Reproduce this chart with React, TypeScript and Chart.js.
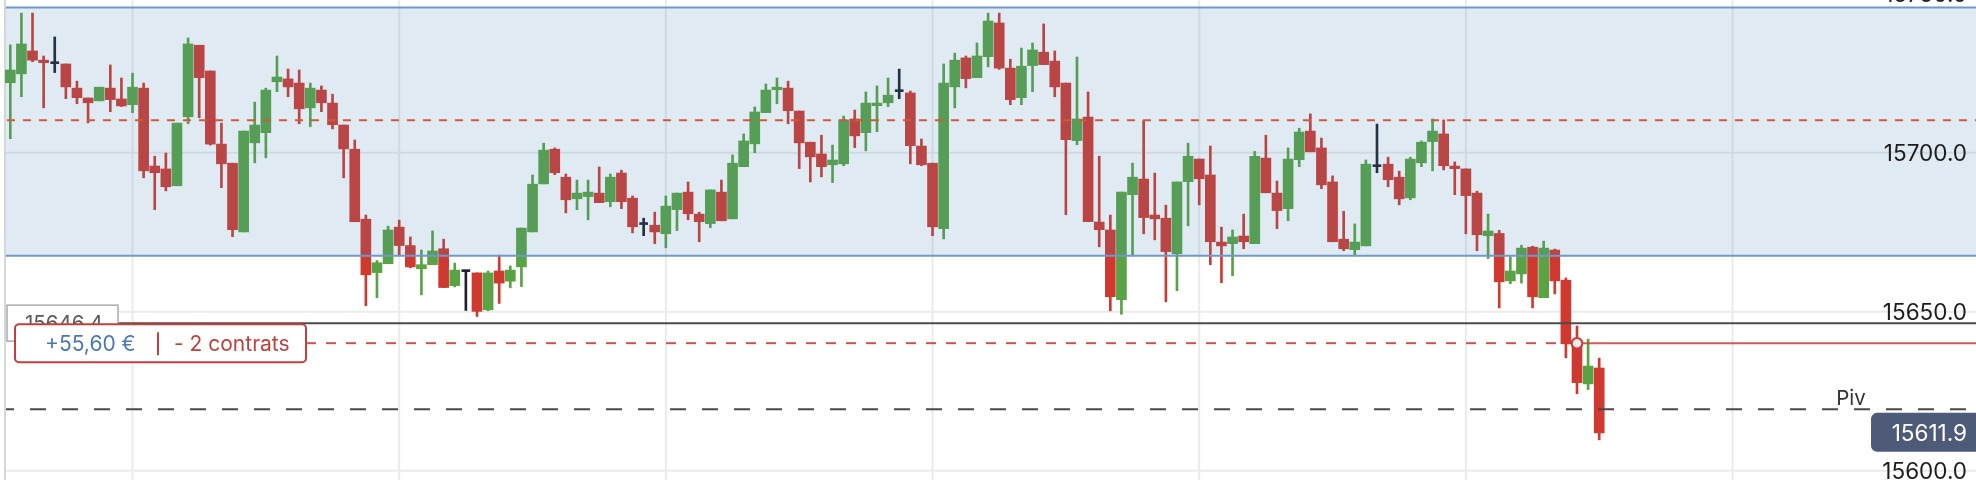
import React, { useEffect, useRef } from "react";
import { Chart, registerables } from "chart.js";

Chart.register(...registerables);

// ---- Data (OHLC per candle) ----
const opens = [
  15722.0, 15724.8, 15732.0, 15729.1, 15728.0, 15727.9, 15720.3, 15717.2, 15716.3, 15720.3,
  15716.9, 15715.1, 15720.3, 15695.8, 15694.9, 15689.6, 15711.3, 15733.8, 15725.7, 15702.7,
  15696.7, 15675.1, 15703.1, 15706.3, 15722.3, 15723.2, 15721.9, 15714.1, 15719.7, 15715.6,
  15708.7, 15701.1, 15679.1, 15662.3, 15665.1, 15676.6, 15670.8, 15663.5, 15664.8, 15669.8,
  15658.2, 15662.6, 15662.2, 15650.6, 15662.8, 15659.6, 15664.1, 15675.1, 15690.2, 15701.1,
  15692.3, 15685.5, 15686.2, 15687.3, 15684.6, 15693.6, 15685.7, 15677.4, 15677.2, 15674.5,
  15682.1, 15687.6, 15680.7, 15677.7, 15687.6, 15679.2, 15695.6, 15702.8, 15712.6, 15719.8,
  15720.3, 15713.1, 15703.3, 15699.6, 15696.2, 15696.5, 15710.6, 15706.3, 15714.8, 15715.7,
  15719.2, 15718.8, 15702.1, 15696.7, 15676.1, 15720.7, 15729.8, 15723.6, 15730.2, 15740.8,
  15726.6, 15717.3, 15727.4, 15731.6, 15728.8, 15721.9, 15703.8, 15711.2, 15678.2, 15675.7,
  15653.8, 15686.8, 15691.7, 15680.4, 15679.4, 15668.2, 15690.9, 15698.0, 15693.0, 15671.9,
  15671.4, 15673.8, 15671.4, 15698.3, 15687.3, 15682.4, 15697.8, 15706.8, 15701.5, 15690.8,
  15672.8, 15669.5, 15670.7, 15695.6, 15696.4, 15692.3, 15685.8, 15696.8, 15703.5, 15705.9,
  15695.8, 15694.9, 15687.3, 15673.9, 15674.6, 15659.7, 15661.9, 15670.3, 15654.4, 15669.4,
  15659.9, 15639.9, 15627.3, 15632.3,
];
const highs = [
  15733.9, 15743.9, 15743.9, 15730.4, 15736.4, 15727.9, 15722.5, 15717.2, 15720.6, 15727.6,
  15723.5, 15725.0, 15721.9, 15698.9, 15699.9, 15709.3, 15736.1, 15733.8, 15725.7, 15709.3,
  15696.7, 15706.8, 15715.9, 15720.3, 15730.4, 15726.3, 15726.0, 15721.9, 15721.0, 15718.4,
  15708.7, 15704.0, 15680.4, 15666.1, 15676.9, 15678.8, 15673.5, 15669.4, 15675.4, 15672.8,
  15665.3, 15662.6, 15662.2, 15662.8, 15667.8, 15664.4, 15676.3, 15693.0, 15703.0, 15701.5,
  15693.3, 15691.4, 15691.4, 15695.5, 15693.3, 15694.5, 15686.4, 15679.4, 15681.3, 15686.4,
  15687.3, 15690.8, 15681.3, 15688.3, 15691.4, 15699.3, 15705.9, 15714.4, 15721.6, 15723.5,
  15722.5, 15713.1, 15703.3, 15705.5, 15702.4, 15711.5, 15713.4, 15719.1, 15721.0, 15723.5,
  15726.3, 15719.4, 15704.3, 15696.7, 15727.9, 15731.3, 15730.4, 15734.5, 15743.9, 15743.9,
  15729.4, 15732.9, 15734.5, 15740.5, 15732.0, 15721.9, 15730.1, 15719.1, 15698.9, 15680.4,
  15687.6, 15696.7, 15710.1, 15693.6, 15683.5, 15690.8, 15703.0, 15698.0, 15702.1, 15676.6,
  15675.7, 15680.7, 15700.4, 15705.5, 15691.1, 15701.5, 15707.7, 15712.2, 15704.6, 15692.7,
  15681.6, 15677.6, 15697.7, 15709.0, 15698.6, 15694.2, 15698.6, 15703.7, 15710.6, 15710.3,
  15697.1, 15694.9, 15687.9, 15680.7, 15675.6, 15667.3, 15670.9, 15670.6, 15672.2, 15669.7,
  15660.6, 15645.5, 15641.4, 15635.4,
];
const lows = [
  15704.4, 15717.6, 15728.6, 15714.1, 15725.2, 15717.0, 15715.4, 15709.4, 15716.3, 15712.9,
  15714.5, 15712.6, 15692.1, 15682.1, 15688.0, 15689.6, 15709.1, 15711.0, 15702.4, 15689.0,
  15673.6, 15675.1, 15696.8, 15698.4, 15719.2, 15717.6, 15709.1, 15708.2, 15712.9, 15707.5,
  15692.1, 15678.3, 15651.9, 15654.4, 15665.1, 15667.8, 15663.8, 15655.3, 15664.8, 15657.6,
  15657.8, 15650.4, 15648.5, 15650.3, 15652.6, 15657.5, 15657.9, 15675.1, 15690.2, 15693.1,
  15681.1, 15682.1, 15678.9, 15684.3, 15683.0, 15682.4, 15674.8, 15673.9, 15671.4, 15670.1,
  15675.5, 15678.9, 15672.0, 15676.4, 15678.6, 15679.2, 15695.6, 15700.0, 15712.6, 15715.4,
  15709.1, 15695.0, 15690.8, 15692.4, 15690.6, 15695.9, 15701.6, 15700.6, 15706.6, 15714.5,
  15717.0, 15696.5, 15695.9, 15673.9, 15672.9, 15714.1, 15720.4, 15723.6, 15727.0, 15726.2,
  15715.1, 15715.1, 15719.2, 15727.7, 15717.6, 15680.5, 15702.5, 15678.3, 15670.4, 15650.3,
  15649.2, 15667.6, 15674.5, 15672.6, 15653.1, 15656.6, 15677.0, 15683.6, 15664.8, 15659.1,
  15661.3, 15669.8, 15671.4, 15687.4, 15676.1, 15678.6, 15695.6, 15700.3, 15688.7, 15672.0,
  15669.2, 15667.6, 15670.7, 15693.7, 15689.3, 15683.6, 15685.2, 15695.6, 15694.3, 15694.6,
  15686.8, 15674.5, 15669.2, 15666.7, 15651.2, 15658.8, 15659.0, 15651.2, 15654.4, 15655.6,
  15635.5, 15624.2, 15625.5, 15609.7,
];
const closes = [
  15726.0, 15734.2, 15729.1, 15728.3, 15728.0, 15720.7, 15717.3, 15715.7, 15720.6, 15716.7,
  15714.7, 15720.6, 15694.3, 15693.7, 15689.3, 15709.3, 15734.2, 15723.6, 15702.7, 15696.5,
  15675.8, 15706.8, 15708.7, 15719.7, 15723.8, 15720.7, 15713.8, 15720.3, 15715.7, 15708.8,
  15701.2, 15678.3, 15661.6, 15665.4, 15675.7, 15670.8, 15664.1, 15664.8, 15669.1, 15657.6,
  15663.1, 15662.6, 15650.1, 15662.2, 15659.0, 15663.1, 15676.3, 15690.1, 15700.8, 15693.7,
  15685.2, 15687.3, 15687.6, 15684.3, 15692.3, 15684.6, 15676.7, 15677.4, 15675.1, 15683.2,
  15687.3, 15680.8, 15678.3, 15688.3, 15678.6, 15696.7, 15703.7, 15712.8, 15719.7, 15720.6,
  15713.2, 15703.1, 15698.7, 15695.6, 15697.7, 15710.3, 15705.3, 15715.6, 15715.6, 15718.1,
  15719.2, 15702.2, 15696.2, 15676.7, 15721.9, 15729.1, 15723.3, 15730.4, 15741.4, 15726.6,
  15716.7, 15727.2, 15732.3, 15727.7, 15720.7, 15704.1, 15710.6, 15678.3, 15675.8, 15654.7,
  15687.6, 15692.3, 15679.6, 15679.2, 15668.9, 15690.8, 15698.9, 15691.8, 15672.0, 15670.7,
  15673.5, 15672.0, 15698.9, 15687.4, 15681.8, 15698.0, 15706.5, 15700.3, 15689.9, 15672.0,
  15669.8, 15671.9, 15696.4, 15695.6, 15691.5, 15685.5, 15698.0, 15703.3, 15706.8, 15695.9,
  15695.0, 15686.5, 15674.2, 15675.4, 15659.4, 15662.8, 15670.0, 15654.7, 15670.0, 15659.7,
  15639.9, 15627.7, 15632.9, 15611.9,
];

// ---- Axis / annotation values ----
const yTickValues = [15600, 15650, 15700, 15750];
const yTickLabels = ["15600.0", "15650.0", "15700.0", "15750.0"];
const xGridIndices = [11, 35, 59, 83, 107, 131, 155];
const bandHigh = 15745.7;
const bandLow = 15667.6;
const targetLevel = 15710.2;
const refLevel = 15646.4;
const refLabel = "15646.4";
const entryLevel = 15640.1;
const entryIndex = 141;
const pivotLevel = 15619.3;
const pivotLabel = "Piv";
const lastPrice = 15611.9;
const lastPriceLabel = "15611.9";
const pnlText = "+55,60 €";
const sizeText = "- 2 contrats";

const X_MIN = -0.927;
const X_MAX = 176.91;
const Y_MIN = 15597.08;
const Y_MAX = 15748.02;

const UP = "#5aa344";
const DOWN = "#d0392f";
const DOJI = "#1e222d";
const FONT = "Inter, 'Noto Sans', sans-serif";

function candleColor(i: number) {
  if (closes[i] > opens[i]) return UP;
  if (closes[i] < opens[i]) return DOWN;
  return DOJI;
}

const overlayPlugin = {
  id: "overlay",
  beforeDatasetsDraw(chart: any) {
    const { ctx, chartArea: a, scales } = chart;
    const x = scales.x;
    const y = scales.y;
    ctx.save();
    ctx.lineWidth = 2;
    ctx.strokeStyle = "#ebebeb";
    for (const v of yTickValues) {
      const py = y.getPixelForValue(v);
      ctx.beginPath();
      ctx.moveTo(6, py);
      ctx.lineTo(a.right, py);
      ctx.stroke();
    }
    for (const i of xGridIndices) {
      const px = x.getPixelForValue(i);
      ctx.beginPath();
      ctx.moveTo(px, a.top);
      ctx.lineTo(px, a.bottom);
      ctx.stroke();
    }
    ctx.strokeStyle = "#d4d7db";
    ctx.beginPath();
    ctx.moveTo(5, a.top);
    ctx.lineTo(5, a.bottom);
    ctx.stroke();
    ctx.restore();
  },
  afterDatasetsDraw(chart: any) {
    const { ctx, chartArea: a, scales } = chart;
    const x = scales.x;
    const y = scales.y;
    const R = a.right;
    ctx.save();

    // band
    const bt = y.getPixelForValue(bandHigh);
    const bb = y.getPixelForValue(bandLow);
    ctx.fillStyle = "rgba(70,130,180,0.17)";
    ctx.fillRect(6, bt, R - 6, bb - bt);
    ctx.strokeStyle = "#7098c9";
    ctx.lineWidth = 2;
    for (const py of [bt, bb]) {
      ctx.beginPath();
      ctx.moveTo(6, py);
      ctx.lineTo(R, py);
      ctx.stroke();
    }

    // target dashed line
    const ty = y.getPixelForValue(targetLevel);
    ctx.strokeStyle = "#d2583c";
    ctx.lineWidth = 2;
    ctx.setLineDash([8, 8]);
    ctx.beginPath();
    ctx.moveTo(7, ty);
    ctx.lineTo(R, ty);
    ctx.stroke();

    // pivot dashed line
    const py = y.getPixelForValue(pivotLevel);
    ctx.strokeStyle = "#4a4a4a";
    ctx.setLineDash([16, 16]);
    ctx.lineDashOffset = 8;
    ctx.beginPath();
    ctx.moveTo(6, py);
    ctx.lineTo(R, py);
    ctx.stroke();
    ctx.lineDashOffset = 0;

    // reference solid line
    const ry = y.getPixelForValue(refLevel);
    ctx.setLineDash([]);
    ctx.strokeStyle = "#4b4b4b";
    ctx.beginPath();
    ctx.moveTo(118, ry);
    ctx.lineTo(R, ry);
    ctx.stroke();

    // entry line
    const ey = y.getPixelForValue(entryLevel);
    const ex = x.getPixelForValue(entryIndex);
    ctx.strokeStyle = "rgba(196,64,60,0.9)";
    ctx.setLineDash([10, 10]);
    ctx.beginPath();
    ctx.moveTo(306, ey);
    ctx.lineTo(ex - 6, ey);
    ctx.stroke();
    ctx.setLineDash([]);
    ctx.strokeStyle = "rgba(196,64,60,0.85)";
    ctx.beginPath();
    ctx.moveTo(ex + 6, ey);
    ctx.lineTo(R, ey);
    ctx.stroke();
    ctx.beginPath();
    ctx.arc(ex, ey, 5.3, 0, Math.PI * 2);
    ctx.fillStyle = "#fde8e8";
    ctx.fill();
    ctx.strokeStyle = "#c23b36";
    ctx.lineWidth = 2;
    ctx.stroke();

    // reference label box
    ctx.fillStyle = "#ffffff";
    ctx.fillRect(7, ry - 18, 111, 36);
    ctx.strokeStyle = "#a9abb0";
    ctx.lineWidth = 1.5;
    ctx.strokeRect(7, ry - 18, 111, 36);
    ctx.fillStyle = "#5a5a5a";
    ctx.font = `20.5px ${FONT}`;
    ctx.textBaseline = "alphabetic";
    ctx.textAlign = "left";
    ctx.fillText(refLabel, 25, ry + 6.5);

    // position label box
    ctx.beginPath();
    (ctx as any).roundRect(15, ey - 19, 291, 38, 4);
    ctx.fillStyle = "#ffffff";
    ctx.fill();
    ctx.strokeStyle = "#c23f3f";
    ctx.lineWidth = 2;
    ctx.stroke();
    ctx.font = `21px ${FONT}`;
    ctx.fillStyle = "#4a78b2";
    ctx.fillText(pnlText, 45, ey + 8);
    ctx.strokeStyle = "#c23f3f";
    ctx.lineWidth = 2;
    ctx.beginPath();
    ctx.moveTo(158, ey - 11);
    ctx.lineTo(158, ey + 12);
    ctx.stroke();
    ctx.fillStyle = "#c0403e";
    ctx.fillText(sizeText, 174, ey + 8);

    // y labels
    ctx.font = `22.5px ${FONT}`;
    ctx.textAlign = "right";
    ctx.fillStyle = "#1c1c1c";
    yTickValues.forEach((v, k) => {
      ctx.fillText(yTickLabels[k], 1967, y.getPixelForValue(v) + 8.5);
    });

    // pivot label
    ctx.font = `20.5px ${FONT}`;
    ctx.textAlign = "center";
    ctx.fillStyle = "#333333";
    ctx.fillText(pivotLabel, 1851, py - 4);

    // last price box
    const ly = y.getPixelForValue(lastPrice);
    ctx.beginPath();
    (ctx as any).roundRect(1871, ly - 20, R - 1871 + 6, 39, 6);
    ctx.fillStyle = "#4e5b78";
    ctx.fill();
    ctx.font = `22.5px ${FONT}`;
    ctx.textAlign = "right";
    ctx.fillStyle = "#ffffff";
    ctx.fillText(lastPriceLabel, 1967, ly + 8.5);

    ctx.restore();
  },
};

export default function App() {
  const ref = useRef<HTMLCanvasElement | null>(null);

  useEffect(() => {
    if (!ref.current) return;
    const idx = opens.map((_, i) => i);
    const bodyIdx = idx.filter((i) => opens[i] !== closes[i]);
    const dojiIdx = idx.filter((i) => opens[i] === closes[i]);

    const chart = new Chart(ref.current, {
      type: "bar",
      data: {
        datasets: [
          {
            label: "doji",
            data: dojiIdx.map((i) => ({ x: i, y: [opens[i], closes[i]] })) as any,
            backgroundColor: DOJI,
            barThickness: 8,
            maxBarThickness: 8,
            minBarLength: 2,
            grouped: false,
            borderWidth: 0,
          } as any,
          {
            label: "body",
            data: bodyIdx.map((i) => ({ x: i, y: [opens[i], closes[i]] })) as any,
            backgroundColor: bodyIdx.map((i) => candleColor(i)),
            barThickness: 10,
            maxBarThickness: 10,
            minBarLength: 1.5,
            grouped: false,
            borderWidth: 0,
          } as any,
          {
            label: "wick",
            data: idx.map((i) => ({ x: i, y: [lows[i], highs[i]] })) as any,
            backgroundColor: idx.map((i) => candleColor(i)),
            barThickness: 2,
            maxBarThickness: 2,
            grouped: false,
            borderWidth: 0,
          } as any,
        ],
      },
      options: {
        animation: false,
        responsive: false,
        devicePixelRatio: 1,
        events: [],
        layout: { padding: 0 },
        plugins: { legend: { display: false }, tooltip: { enabled: false } },
        scales: {
          x: { type: "linear", min: X_MIN, max: X_MAX, offset: false, display: false },
          y: { type: "linear", min: Y_MIN, max: Y_MAX, display: false },
        },
      } as any,
      plugins: [overlayPlugin],
    });
    return () => chart.destroy();
  }, []);

  return (
    <div style={{ position: "fixed", left: 0, top: 0, width: 1976, height: 480, background: "#ffffff" }}>
      <canvas ref={ref} width={1976} height={480} style={{ width: 1976, height: 480, display: "block" }} />
    </div>
  );
}
